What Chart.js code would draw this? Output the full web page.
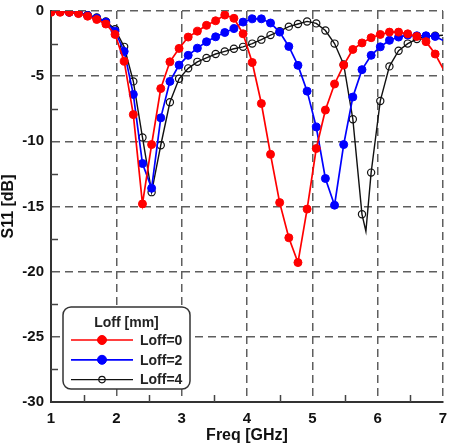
<!DOCTYPE html>
<html>
<head>
<meta charset="utf-8">
<title>S11 vs Freq</title>
<script src="https://cdn.jsdelivr.net/npm/chart.js@4.4.0/dist/chart.umd.min.js"></script>
<style>
  html, body { margin: 0; padding: 0; background: #fff; }
  #wrap { width: 451px; height: 444px; }
</style>
</head>
<body>
<div id="wrap"><canvas id="chartS11" width="451" height="444"></canvas></div>
<script>
// frekuensi sampel (GHz), langkah 0.14
const freq = [1.00, 1.14, 1.28, 1.42, 1.56, 1.70, 1.84, 1.98, 2.12, 2.26,
              2.40, 2.54, 2.68, 2.82, 2.96, 3.10, 3.24, 3.38, 3.52, 3.66,
              3.80, 3.94, 4.08, 4.22, 4.36, 4.50, 4.64, 4.78, 4.92, 5.06,
              5.20, 5.34, 5.48, 5.62, 5.76, 5.90, 6.04, 6.18, 6.32, 6.46,
              6.60, 6.74, 6.88, 7.02];

const s11Loff0 = [-0.1, -0.1, -0.1, -0.2, -0.4, -0.65, -1.0, -1.8, -3.85, -7.95,
                  -14.8, -10.25, -5.95, -3.9, -2.87, -2.0, -1.55, -1.1, -0.75, -0.31,
                  -0.56, -1.75, -3.95, -7.1, -11.0, -14.7, -17.4, -19.3, -15.2, -10.55,
                  -7.6, -5.6, -4.15, -2.95, -2.45, -2.05, -1.8, -1.62, -1.62, -1.75,
                  -1.95, -2.35, -3.3, -4.6];

const s11Loff2 = [-0.05, -0.05, -0.1, -0.15, -0.35, -0.55, -0.85, -1.55, -3.1, -6.4,
                  -11.7, -13.6, -8.2, -5.4, -4.15, -3.4, -2.85, -2.36, -1.98, -1.65,
                  -1.35, -0.85, -0.6, -0.6, -0.92, -1.62, -2.72, -4.17, -6.15, -8.9,
                  -12.85, -14.9, -10.25, -6.6, -4.5, -3.4, -2.75, -2.25, -2.0, -1.85,
                  -1.9, -1.9, -1.95, -2.3];

const s11Loff4 = [-0.05, -0.05, -0.1, -0.15, -0.3, -0.5, -0.8, -1.4, -2.75, -5.4,
                  -9.7, -13.9, -10.3, -7.0, -5.2, -4.4, -3.9, -3.6, -3.3, -3.1,
                  -2.9, -2.75, -2.5, -2.2, -1.85, -1.55, -1.2, -1.0, -0.8, -0.95,
                  -1.5, -2.5, -4.1, -8.3, -15.6, -12.4, -6.9, -4.25, -3.05, -2.5,
                  -2.15, -1.95, -1.9, -1.85];

// titik ujung lembah yang jatuh di antara marker (garis saja)
const tipFreqLoff4 = [5.82];
const tipS11Loff4 = [-16.9];

const seriesLabels = ['Loff=0', 'Loff=2', 'Loff=4'];
const legendTitle = 'Loff [mm]';
const xTitle = 'Freq [GHz]';
const yTitle = 'S11 [dB]';

const FONT = "'Liberation Sans', Arial, Helvetica, sans-serif";

function buildPoints(fs, vs, tipF, tipV) {
    const pts = fs.map((f, i) => ({ x: f, y: vs[i], marker: f <= 7 }));
    (tipF || []).forEach((f, i) => pts.push({ x: f, y: tipV[i], marker: false }));
    return pts.sort((a, b) => a.x - b.x);
}

// tick kecil ke dalam di sumbu kiri & bawah
const axisTicks = {
    id: 'axisTicks',
    beforeDatasetsDraw(chart) {
        const { ctx, chartArea, scales } = chart;
        ctx.save();
        ctx.strokeStyle = '#444';
        ctx.lineWidth = 1.5;
        ctx.beginPath();
        for (let v = 1.5; v < 7; v += 1) {
            const px = Math.round(scales.x.getPixelForValue(v)) + 0.5;
            ctx.moveTo(px, chartArea.bottom);
            ctx.lineTo(px, chartArea.bottom - 7);
        }
        for (let v = -27.5; v < 0; v += 5) {
            const py = Math.round(scales.y.getPixelForValue(v)) + 0.5;
            ctx.moveTo(chartArea.left, py);
            ctx.lineTo(chartArea.left + 7, py);
        }
        ctx.stroke();
        ctx.restore();
    }
};

// legenda di dalam area grafik, kiri bawah
const boxLegend = {
    id: 'boxLegend',
    afterDatasetsDraw(chart) {
        const { ctx, chartArea } = chart;
        const x = chartArea.left + 12;
        const w = 127;
        const h = 82;
        const y = chartArea.bottom - 13 - h;
        ctx.save();
        ctx.beginPath();
        ctx.roundRect(x, y, w, h, 8);
        ctx.fillStyle = '#fff';
        ctx.fill();
        ctx.lineWidth = 1.5;
        ctx.strokeStyle = '#333';
        ctx.stroke();

        ctx.fillStyle = '#222';
        ctx.font = `bold 14px ${FONT}`;
        ctx.textAlign = 'center';
        ctx.textBaseline = 'middle';
        ctx.fillText(legendTitle, x + w / 2, y + 16);

        chart.data.datasets.forEach((ds, i) => {
            const ry = y + 33 + i * 19.8;
            ctx.beginPath();
            ctx.strokeStyle = ds.borderColor;
            ctx.lineWidth = ds.borderWidth;
            ctx.moveTo(x + 8, ry);
            ctx.lineTo(x + 70, ry);
            ctx.stroke();
            ctx.beginPath();
            ctx.arc(x + 39, ry, ds.legendRadius, 0, Math.PI * 2);
            if (ds.pointBackgroundColor !== 'rgba(0,0,0,0)') {
                ctx.fillStyle = ds.pointBackgroundColor;
                ctx.fill();
            }
            ctx.lineWidth = ds.pointBorderWidth;
            ctx.strokeStyle = ds.pointBorderColor;
            ctx.stroke();
            ctx.fillStyle = '#222';
            ctx.textAlign = 'left';
            ctx.fillText(ds.label, x + 77, ry + 1);
        });
        ctx.restore();
    }
};

const markerRadius = (r) => (c) => (c.raw && c.raw.marker ? r : 0);

const ctx = document.getElementById('chartS11').getContext('2d');
const chart = new Chart(ctx, {
    type: 'line',
    data: {
        datasets: [
            {
                label: seriesLabels[0],
                data: buildPoints(freq, s11Loff0),
                borderColor: '#ff0000',
                borderWidth: 1.7,
                pointBackgroundColor: '#ff0000',
                pointBorderColor: '#ff0000',
                pointBorderWidth: 1,
                pointRadius: markerRadius(4),
                legendRadius: 4.5,
                tension: 0
            },
            {
                label: seriesLabels[1],
                data: buildPoints(freq, s11Loff2),
                borderColor: '#0000ff',
                borderWidth: 1.7,
                pointBackgroundColor: '#0000ff',
                pointBorderColor: '#0000ff',
                pointBorderWidth: 1,
                pointRadius: markerRadius(4),
                legendRadius: 4.5,
                tension: 0
            },
            {
                label: seriesLabels[2],
                data: buildPoints(freq, s11Loff4, tipFreqLoff4, tipS11Loff4),
                borderColor: '#111111',
                borderWidth: 1.4,
                pointBackgroundColor: 'rgba(0,0,0,0)',
                pointBorderColor: '#111111',
                pointBorderWidth: 1.2,
                pointRadius: markerRadius(3.6),
                legendRadius: 3.2,
                tension: 0
            }
        ]
    },
    options: {
        responsive: false,
        animation: false,
        devicePixelRatio: 1,
        layout: {
            padding: { top: 11, right: 8, left: 0, bottom: 0 }
        },
        plugins: {
            legend: { display: false },
            tooltip: { enabled: false }
        },
        scales: {
            x: {
                type: 'linear',
                min: 1,
                max: 7,
                ticks: {
                    stepSize: 1,
                    padding: 8,
                    color: '#111',
                    font: { family: FONT, size: 15, weight: 'bold' }
                },
                grid: {
                    color: '#5e5e5e',
                    lineWidth: 1.5,
                    drawTicks: false
                },
                border: { display: true, color: '#333', width: 2, dash: [8, 5] },
                title: {
                    display: true,
                    text: xTitle,
                    color: '#111',
                    padding: { top: 0, bottom: 0 },
                    font: { family: FONT, size: 16, weight: 'bold', lineHeight: 1 }
                },
                afterFit(scale) {
                    scale.height = 42;
                    scale.paddingLeft = 0;
                    scale.paddingRight = 0;
                }
            },
            y: {
                type: 'linear',
                min: -30,
                max: 0,
                ticks: {
                    stepSize: 5,
                    padding: 7,
                    color: '#111',
                    font: { family: FONT, size: 15, weight: 'bold' }
                },
                grid: {
                    color: '#5e5e5e',
                    lineWidth: 1.5,
                    drawTicks: false
                },
                border: { display: true, color: '#333', width: 2, dash: [8, 5] },
                title: {
                    display: true,
                    text: yTitle,
                    color: '#111',
                    padding: { top: 1, bottom: 0 },
                    font: { family: FONT, size: 16, weight: 'bold', lineHeight: 1 }
                },
                afterFit(scale) {
                    scale.width = 51;
                    scale.paddingTop = 0;
                    scale.paddingBottom = 0;
                }
            }
        }
    },
    plugins: [axisTicks, boxLegend]
});
</script>
</body>
</html>
